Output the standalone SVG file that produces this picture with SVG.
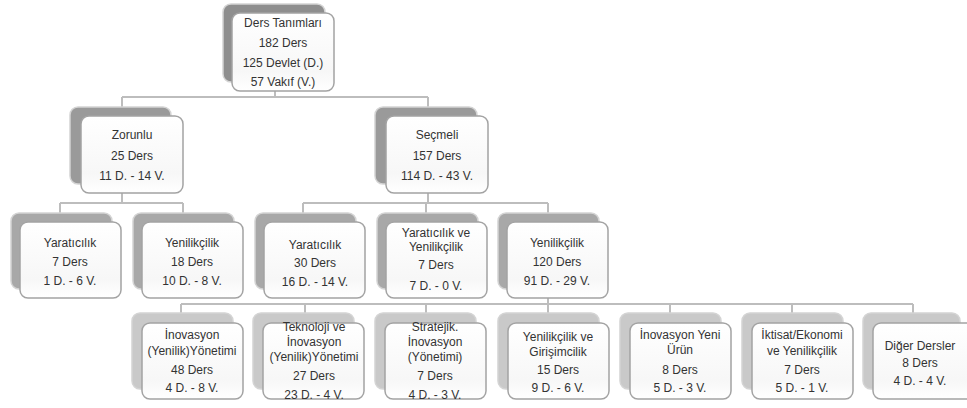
<svg xmlns="http://www.w3.org/2000/svg" width="967" height="408" viewBox="0 0 967 408">
<defs>
<linearGradient id="fg" x1="0" y1="0" x2="0" y2="1">
<stop offset="0" stop-color="#ffffff"/>
<stop offset="0.75" stop-color="#f7f7f7"/>
<stop offset="1" stop-color="#ffffff"/>
</linearGradient>
</defs>
<style>
.c{fill:none;stroke:#bdbdbd;stroke-width:2}
.b{stroke:#d4d4d4;stroke-width:1.5}
.b1{fill:#8e8e8e}.b2{fill:#9a9a9a}.b3{fill:#a8a8a8}.b4{fill:#c9c9c9}
.f{fill:url(#fg);stroke:#a3a3a3;stroke-width:1.5}
text{font-family:"Liberation Sans",Arial,sans-serif;font-size:12px;fill:#333333;text-anchor:middle}
</style>
<rect width="967" height="408" fill="#ffffff"/>
<g id="connectors">
<path class="c" d="M275,91V97M122,97H428M122,97V110M428,97V110"/>
<path class="c" d="M122,193V203M60,203H183M60,203V215M183,203V215"/>
<path class="c" d="M428,193V203M303,203H548M303,203V215M426,203V215M548,203V215"/>
<path class="c" d="M548,298V304M181,304H913M181,304V315M305,304V315M426,304V315M548,304V315M670,304V315M792,304V315M913,304V315"/>
</g>
<g id="n-ders">
<rect class="b b1" x="223" y="4" width="102" height="78" rx="8"/>
<rect class="f" x="232" y="13" width="102" height="78" rx="8"/>
<text x="283" y="27">Ders Tanımları</text><text x="283" y="47">182 Ders</text><text x="283" y="67">125 Devlet (D.)</text><text x="283" y="86">57 Vakıf (V.)</text>
</g>
<g id="n-zorunlu">
<rect class="b b2" x="70" y="107" width="101" height="77" rx="8"/>
<rect class="f" x="81" y="116" width="102" height="77" rx="8"/>
<text x="132" y="139">Zorunlu</text><text x="132" y="160">25 Ders</text><text x="132" y="180">11 D. - 14 V.</text>
</g>
<g id="n-secmeli">
<rect class="b b2" x="375" y="107" width="102" height="77" rx="8"/>
<rect class="f" x="386" y="116" width="102" height="77" rx="8"/>
<text x="437" y="139">Seçmeli</text><text x="437" y="160">157 Ders</text><text x="437" y="180">114 D. - 43 V.</text>
</g>
<g id="n-z-yaraticilik">
<rect class="b b3" x="11" y="213" width="101" height="76" rx="8"/>
<rect class="f" x="20" y="222" width="101" height="76" rx="8"/>
<text x="70" y="247">Yaratıcılık</text><text x="70" y="266">7 Ders</text><text x="70" y="285">1 D. - 6 V.</text>
</g>
<g id="n-z-yenilikcilik">
<rect class="b b3" x="133" y="213" width="101" height="76" rx="8"/>
<rect class="f" x="142" y="222" width="101" height="76" rx="8"/>
<text x="192" y="247">Yenilikçilik</text><text x="192" y="266">18 Ders</text><text x="192" y="285">10 D. - 8 V.</text>
</g>
<g id="n-s-yaraticilik">
<rect class="b b3" x="255" y="213" width="101" height="76" rx="8"/>
<rect class="f" x="264" y="222" width="101" height="76" rx="8"/>
<text x="315" y="249">Yaratıcılık</text><text x="315" y="267">30 Ders</text><text x="315" y="286">16 D. - 14 V.</text>
</g>
<g id="n-s-yy">
<rect class="b b3" x="377" y="213" width="101" height="76" rx="8"/>
<rect class="f" x="386" y="222" width="101" height="76" rx="8"/>
<text x="436" y="237">Yaratıcılık ve</text><text x="436" y="251">Yenilikçilik</text><text x="436" y="269">7 Ders</text><text x="436" y="290">7 D. - 0 V.</text>
</g>
<g id="n-s-yenilikcilik">
<rect class="b b3" x="498" y="213" width="101" height="76" rx="8"/>
<rect class="f" x="507" y="222" width="101" height="76" rx="8"/>
<text x="557" y="247">Yenilikçilik</text><text x="557" y="266">120 Ders</text><text x="557" y="285">91 D. - 29 V.</text>
</g>
<g id="n-inovasyon-yonetimi">
<rect class="b b4" x="132" y="313" width="101" height="76" rx="8"/>
<rect class="f" x="142" y="323" width="101" height="76" rx="8"/>
<text x="192" y="339">İnovasyon</text><text x="192" y="355">(Yenilik)Yönetimi</text><text x="192" y="374">48 Ders</text><text x="192" y="392">4 D. - 8 V.</text>
</g>
<g id="n-teknoloji">
<rect class="b b4" x="253" y="313" width="101" height="76" rx="8"/>
<rect class="f" x="263" y="323" width="101" height="76" rx="8"/>
<text x="314" y="331">Teknoloji ve</text><text x="314" y="346">İnovasyon</text><text x="314" y="361">(Yenilik)Yönetimi</text><text x="314" y="380">27 Ders</text><text x="314" y="399">23 D. - 4 V.</text>
</g>
<g id="n-stratejik">
<rect class="b b4" x="375" y="313" width="101" height="76" rx="8"/>
<rect class="f" x="385" y="323" width="101" height="76" rx="8"/>
<text x="435" y="331">Stratejik.</text><text x="435" y="346">İnovasyon</text><text x="435" y="361">(Yönetimi)</text><text x="435" y="380">7 Ders</text><text x="435" y="399">4 D. - 3 V.</text>
</g>
<g id="n-girisimcilik">
<rect class="b b4" x="498" y="313" width="101" height="76" rx="8"/>
<rect class="f" x="508" y="323" width="101" height="76" rx="8"/>
<text x="558" y="341">Yenilikçilik ve</text><text x="558" y="356">Girişimcilik</text><text x="558" y="374">15 Ders</text><text x="558" y="392">9 D. - 6 V.</text>
</g>
<g id="n-yeni-urun">
<rect class="b b4" x="620" y="313" width="101" height="76" rx="8"/>
<rect class="f" x="630" y="323" width="101" height="76" rx="8"/>
<text x="680" y="339">İnovasyon Yeni</text><text x="680" y="354">Ürün</text><text x="680" y="374">8 Ders</text><text x="680" y="392">5 D. - 3 V.</text>
</g>
<g id="n-iktisat">
<rect class="b b4" x="742" y="313" width="101" height="76" rx="8"/>
<rect class="f" x="752" y="323" width="101" height="76" rx="8"/>
<text x="802" y="339">İktisat/Ekonomi</text><text x="802" y="355">ve Yenilikçilik</text><text x="802" y="374">7 Ders</text><text x="802" y="392">5 D. - 1 V.</text>
</g>
<g id="n-diger">
<rect class="b b4" x="863" y="313" width="97" height="76" rx="8"/>
<rect class="f" x="873" y="323" width="101" height="76" rx="8"/>
<text x="920" y="350">Diğer Dersler</text><text x="920" y="367">8 Ders</text><text x="920" y="385">4 D. - 4 V.</text>
</g>
</svg>
